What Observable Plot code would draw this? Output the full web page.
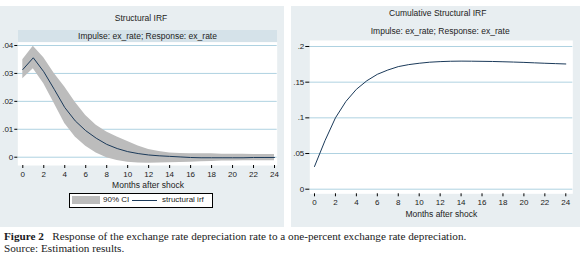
<!DOCTYPE html>
<html><head><meta charset="utf-8">
<script src="https://cdn.jsdelivr.net/npm/d3@7"></script>
<script src="https://cdn.jsdelivr.net/npm/@observablehq/plot@0.6"></script>
<style>
body{margin:0;background:#fff;}
#root{position:relative;width:580px;height:258px;overflow:hidden;font-family:"Liberation Sans",Arial,sans-serif;}
.panel{position:absolute;background:#e8eef1;}
.strip{position:absolute;background:#d5e2e9;}
.t{position:absolute;white-space:nowrap;color:#222;font-size:8.5px;line-height:1;transform:translate(-50%,-50%);}
.plotbox{position:absolute;}
.cap{position:absolute;left:4px;font-family:"Liberation Serif","Times New Roman",serif;font-size:11.2px;color:#1a1a22;white-space:nowrap;line-height:1;}
</style></head>
<body>
<div id="root">
  <div class="panel" style="left:0;top:6px;width:284px;height:221px;"></div>
  <div class="panel" style="left:291px;top:6px;width:289px;height:221px;"></div>
  <div class="strip" style="left:18px;top:30px;width:259px;height:12px;"></div>
  <div class="t" style="left:141px;top:18px;">Structural IRF</div>
  <div class="t" style="left:147.5px;top:36px;">Impulse: ex_rate; Response: ex_rate</div>
  <div class="t" style="left:437.7px;top:13px;">Cumulative Structural IRF</div>
  <div class="t" style="left:440.2px;top:31px;">Impulse: ex_rate; Response: ex_rate</div>
  <div id="left" class="plotbox" style="left:0;top:0;"></div>
  <div id="right" class="plotbox" style="left:291px;top:0;"></div>
  <div class="t" style="left:148px;top:185px;">Months after shock</div>
  <div class="t" style="left:441.3px;top:214px;">Months after shock</div>
  <div style="position:absolute;left:69px;top:192.7px;width:142px;height:13px;border:1px solid #000;background:#fff;"></div>
  <div style="position:absolute;left:72px;top:196px;width:28px;height:8px;background:#bcbcbc;"></div>
  <div class="t" style="left:103px;top:200px;font-size:8px;transform:translate(0,-50%);">90% CI</div>
  <div style="position:absolute;left:132px;top:199.5px;width:25px;height:1px;background:#1b3a5a;"></div>
  <div class="t" style="left:162px;top:200px;font-size:8px;transform:translate(0,-50%);">structural irf</div>
  <div class="cap" style="top:231px;"><b>Figure 2</b>&nbsp;&nbsp;&nbsp;Response of the exchange rate depreciation rate to a one-percent exchange rate depreciation.</div>
  <div class="cap" style="top:243px;">Source: Estimation results.</div>
</div>
<script>
const months = [0,1,2,3,4,5,6,7,8,9,10,11,12,13,14,15,16,17,18,19,20,21,22,23,24];
const irf = [0.0314,0.0356,0.0306,0.0243,0.0178,0.0130,0.0095,0.0068,0.0046,0.0031,0.0020,0.0013,0.0008,0.0005,0.0003,0.0001,-0.0001,-0.0002,-0.0002,-0.0002,-0.0002,-0.0002,-0.0001,-0.0001,-0.0001];
const ciLow = [0.0281,0.0317,0.0263,0.0192,0.0121,0.0072,0.0039,0.0015,-0.0002,-0.0012,-0.0018,-0.0021,-0.0022,-0.0021,-0.0020,-0.0019,-0.0018,-0.0016,-0.0015,-0.0014,-0.0014,-0.0013,-0.0013,-0.0013,-0.0013];
const ciHigh = [0.0349,0.0397,0.0356,0.0300,0.0251,0.0197,0.0149,0.0114,0.0090,0.0072,0.0056,0.0040,0.0028,0.0020,0.0015,0.0013,0.0012,0.0012,0.0012,0.0011,0.0011,0.0011,0.0010,0.0010,0.0010];
const cirf = [0.0318,0.068,0.100,0.123,0.140,0.152,0.161,0.167,0.1718,0.1746,0.1765,0.178,0.1788,0.1793,0.1795,0.1794,0.1792,0.179,0.1786,0.1782,0.1777,0.1771,0.1765,0.176,0.1755];
const xTicks = [0,2,4,6,8,10,12,14,16,18,20,22,24];
const yTicksLeft = [0,0.01,0.02,0.03,0.04];
const yTicksRight = [0,0.05,0.1,0.15,0.2];

const fmt = d => d === 0 ? "0" : String(+d.toFixed(3)).replace(/^0/, "");
const dataL = months.map((m,i) => ({m, irf: irf[i], lo: ciLow[i], hi: ciHigh[i]}));
const dataR = months.map((m,i) => ({m, v: cirf[i]}));
const gridColor = "#afd2e1";
const lineColor = "#1b3a5a";
const common = {style:{background:"transparent", overflow:"visible", fontFamily:"Liberation Sans, Arial, sans-serif", fontSize:"8px", color:"#222"}};

const left = Plot.plot({
  ...common,
  width: 284, height: 227,
  marginLeft: 17.3, marginRight: 7.3, marginTop: 41.7, marginBottom: 62,
  x: {domain: [-0.477, 24.257]},
  y: {domain: [-0.00297, 0.04118]},
  marks: [
    Plot.frame({fill:"white", stroke:null}),
    Plot.gridY(yTicksLeft, {stroke: gridColor, strokeOpacity: 1}),
    Plot.areaY(dataL, {x:"m", y1:"lo", y2:"hi", fill:"#bcbcbc", curve:"linear"}),
    Plot.lineY(dataL, {x:"m", y:"irf", stroke: lineColor, strokeWidth: 1}),
    Plot.axisY(yTicksLeft, {tickFormat: fmt, tickSize: 3, tickPadding: 1.5, line: true, label: null, stroke:"#000"}),
    Plot.axisX(xTicks, {tickSize: 3, tickPadding: 3, line: true, label: null, stroke:"#000"})
  ]
});
document.getElementById("left").appendChild(left);

const right = Plot.plot({
  ...common,
  width: 289, height: 227,
  marginLeft: 18.3, marginRight: 7.7, marginTop: 40, marginBottom: 33.7,
  x: {domain: [-0.449, 24.67]},
  y: {domain: [-0.00645, 0.2084]},
  marks: [
    Plot.frame({fill:"white", stroke:null}),
    Plot.gridY(yTicksRight, {stroke: gridColor, strokeOpacity: 1}),
    Plot.lineY(dataR, {x:"m", y:"v", stroke: lineColor, strokeWidth: 1}),
    Plot.axisY(yTicksRight, {tickFormat: fmt, tickSize: 4, tickPadding: 1.5, line: true, label: null, stroke:"#000"}),
    Plot.axisX(xTicks, {tickSize: 3, tickPadding: 3, line: true, label: null, stroke:"#000"})
  ]
});
document.getElementById("right").appendChild(right);
</script>
</body></html>
